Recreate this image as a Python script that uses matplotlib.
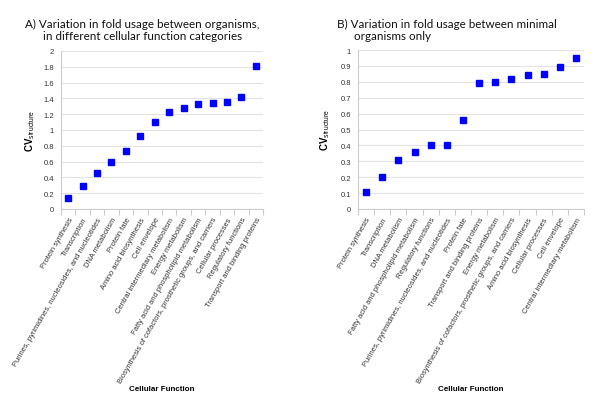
import matplotlib.pyplot as plt

plt.rcParams['font.family'] = ['Liberation Sans', 'DejaVu Sans']
plt.rcParams['mathtext.fontset'] = 'custom'
plt.rcParams['mathtext.rm'] = 'Liberation Sans'
plt.rcParams['mathtext.bf'] = 'Liberation Sans:bold'

# Panel A: all organisms
cats_a = ['Protein synthesis', 'Transcription',
          'Purines, pyrimidines, nucleosides, and nucleotides', 'DNA metabolism',
          'Protein fate', 'Amino acid biosynthesis', 'Cell envelope',
          'Central intermediary metabolism', 'Energy metabolism',
          'Fatty acid and phospholipid metabolism',
          'Biosynthesis of cofactors, prosthetic groups, and carriers',
          'Cellular processes', 'Regulatory functions', 'Transport and binding proteins']
cv_a = [0.14, 0.29, 0.46, 0.59, 0.73, 0.93, 1.10, 1.23, 1.28, 1.33, 1.34, 1.36, 1.42, 1.81]

# Panel B: minimal organisms only
cats_b = ['Protein synthesis', 'Transcription', 'DNA metabolism',
          'Fatty acid and phospholipid metabolism', 'Regulatory functions',
          'Purines, pyrimidines, nucleosides, and nucleotides', 'Protein fate',
          'Transport and binding proteins', 'Energy metabolism',
          'Biosynthesis of cofactors, prosthetic groups, and carriers',
          'Amino acid biosynthesis', 'Cellular processes', 'Cell envelope',
          'Central intermediary metabolism']
cv_b = [0.11, 0.20, 0.31, 0.36, 0.40, 0.405, 0.56, 0.795, 0.80, 0.815, 0.845, 0.85, 0.895, 0.95]

W, H = 600, 402
fig = plt.figure(figsize=(6, 4.02), dpi=100)


def panel(rect, cats, vals, ymax, ystep, ylab_x):
    l, t, r, b = rect
    ax = fig.add_axes([l / W, 1 - b / H, (r - l) / W, (b - t) / H])
    n = len(cats)
    x = list(range(n))
    ax.plot(x, vals, 's', color='#0000FF', ms=4.4, mec='#0000FF', clip_on=False, zorder=3)
    ax.set_xlim(-0.5, n - 0.5)
    ax.set_ylim(0, ymax)
    yt = [i * ystep for i in range(int(round(ymax / ystep)) + 1)]
    ax.set_yticks(yt)
    ax.set_yticklabels(['%g' % round(v, 1) for v in yt], fontsize=5.5, color='#333333')
    ax.yaxis.grid(True, color='#e3e3e3', lw=0.8)
    ax.set_axisbelow(True)
    ax.set_xticks([i - 0.5 for i in range(n + 1)])
    ax.set_xticklabels([])
    ax.set_xticks(x, minor=True)
    ax.set_xticklabels(cats, minor=True, rotation=60, ha='right', rotation_mode='anchor',
                       fontsize=5.4, color='#333333')
    ax.tick_params(axis='x', which='major', length=4, color='#cccccc', width=0.8)
    ax.tick_params(axis='x', which='minor', length=0, pad=5)
    ax.tick_params(axis='y', length=0, pad=5)
    for s in ['top', 'right']:
        ax.spines[s].set_visible(False)
    for s in ['left', 'bottom']:
        ax.spines[s].set_color('#cccccc')
        ax.spines[s].set_linewidth(0.8)
    ax.set_ylabel(r'$\mathbf{CV}_{\mathrm{structure}}$', fontsize=7)
    ax.yaxis.set_label_coords(ylab_x / W, 1 - (t + b) / 2 / H, transform=fig.transFigure)
    ax.set_xlabel('Cellular Function', fontsize=5.8, fontweight='bold')
    ax.xaxis.set_label_coords(0.5, -(386 - b) / (b - t))
    return ax


panel((61, 52, 263, 210), cats_a, cv_a, 2.0, 0.2, 37)
panel((358, 51, 584, 210), cats_b, cv_b, 1.0, 0.1, 332)

tf = dict(fontsize=8.4, family=['Lato', 'DejaVu Sans'], va='baseline', color='#111111')
fig.text(25 / W, 1 - 27.5 / H, 'A) Variation in fold usage between organisms,', **tf)
fig.text(43 / W, 1 - 40.5 / H, 'in different cellular function categories', **tf)
fig.text(337 / W, 1 - 27.5 / H, 'B) Variation in fold usage between minimal', **tf)
fig.text(354 / W, 1 - 40.5 / H, 'organisms only', **tf)

fig.savefig('out.png', dpi=100)
